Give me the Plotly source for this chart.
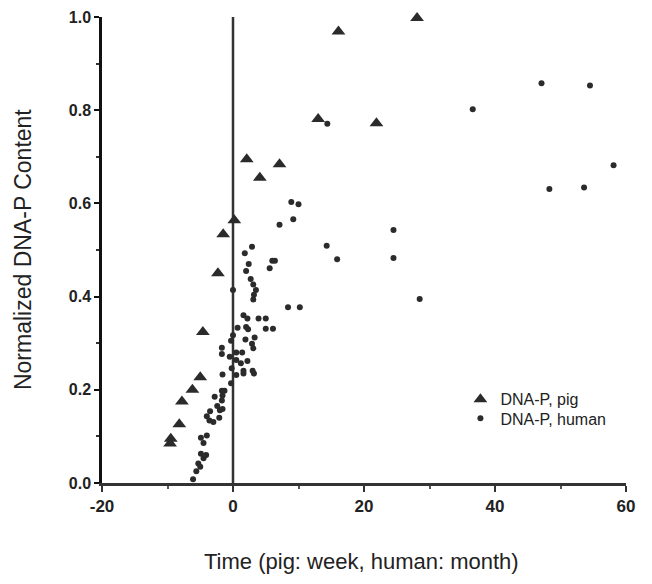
import plotly.graph_objects as go

# Pig data (x: weeks)
pig_x = [-9.6, -9.5, -8.2, -7.8, -6.2, -5.0, -4.6, -2.3, -1.5, 0.2, 2.1, 4.1, 7.1, 13.0, 16.1, 21.9, 28.1]
pig_y = [0.085, 0.095, 0.126, 0.175, 0.200, 0.227, 0.324, 0.450, 0.534, 0.564, 0.695, 0.655, 0.684, 0.781, 0.969, 0.772, 0.998]

# Human data (x: months)
human_x = [14.4, 47.1, 54.5, 36.6, 58.1, 48.3, 53.6, 8.9, 10.0, 9.2, 7.1, 24.5, 14.3, 15.9, 24.5, 28.5,
           8.4, 10.2, 3.9, 5.0, 6.0, 6.4, 5.6, 2.9, 1.8, 2.4, 2.0, 2.7, 3.1, 3.5, 3.2, 3.1, 0.0,
           1.6, 2.2, 0.7, 2.0, 2.3, 5.0, 6.1, 0.0, -0.3, 1.9, 3.3, 2.9, 3.1, -1.7, -1.7, -0.5, 0.5,
           1.4, 0.5, 1.2, 2.2, -0.2, 1.6, 1.6, 3.0, 3.2, 0.5, -1.6, -0.3, -1.7, -1.3, -1.6, -1.7,
           -2.8, -2.4, -2.0, -1.6, -3.5, -4.0, -3.6, -3.0, -2.1, -4.0, -4.9, -4.5, -4.9, -4.1, -4.5,
           -5.3, -5.0, -5.6, -6.1]
human_y = [0.771, 0.858, 0.853, 0.802, 0.682, 0.631, 0.634, 0.603, 0.598, 0.566, 0.554, 0.543, 0.509, 0.480, 0.483, 0.395,
           0.377, 0.377, 0.353, 0.353, 0.477, 0.477, 0.461, 0.507, 0.493, 0.470, 0.455, 0.438, 0.426, 0.414, 0.404, 0.394, 0.414,
           0.360, 0.353, 0.333, 0.335, 0.330, 0.331, 0.331, 0.317, 0.305, 0.308, 0.312, 0.299, 0.289, 0.290, 0.277, 0.271, 0.280,
           0.280, 0.264, 0.257, 0.262, 0.246, 0.241, 0.235, 0.241, 0.235, 0.232, 0.233, 0.214, 0.198, 0.198, 0.188, 0.177,
           0.185, 0.165, 0.156, 0.159, 0.154, 0.143, 0.134, 0.131, 0.140, 0.102, 0.097, 0.086, 0.063, 0.060, 0.053,
           0.042, 0.035, 0.025, 0.008]

x_ticks = [-20, 0, 20, 40, 60]
y_ticks = [0.0, 0.2, 0.4, 0.6, 0.8, 1.0]

x_title = "Time (pig: week, human: month)"
y_title = "Normalized DNA-P Content"

ink = "#2b2b2b"
font_family = "Liberation Sans, Arial, sans-serif"

fig = go.Figure()
fig.add_trace(go.Scatter(x=pig_x, y=pig_y, mode="markers", name="DNA-P, pig",
                         marker=dict(symbol="triangle-up", size=12, color=ink),
                         cliponaxis=False, legend="legend"))
fig.add_trace(go.Scatter(x=human_x, y=human_y, mode="markers", name="DNA-P, human",
                         marker=dict(symbol="circle", size=6, color=ink),
                         cliponaxis=False, legend="legend2"))

fig.add_shape(type="line", x0=0, x1=0, y0=0, y1=1, xref="x", yref="y",
              line=dict(color="#333333", width=2.5), layer="below")

legend_common = dict(xanchor="left", yanchor="top", bgcolor="rgba(0,0,0,0)",
                     font=dict(size=16, color="#222222"), itemsizing="trace")

fig.add_annotation(text=x_title, xref="paper", yref="paper", x=0.496, y=-0.1695,
                   xanchor="center", yanchor="middle", showarrow=False,
                   font=dict(size=22, color="#222222"))
fig.add_annotation(text=y_title, xref="paper", yref="paper", x=-0.1508, y=0.502,
                   xanchor="center", yanchor="middle", showarrow=False, textangle=-90,
                   font=dict(size=23, color="#222222"))

fig.update_layout(
    width=636, height=568,
    margin=dict(l=94, r=18, t=9, b=93),
    paper_bgcolor="white", plot_bgcolor="white",
    font=dict(family=font_family, color="#222222"),
    showlegend=True,
    legend=dict(x=0.684, y=0.216, **legend_common),
    legend2=dict(x=0.684, y=0.175, **legend_common),
    xaxis=dict(range=[-20, 60], tickvals=x_ticks, ticktext=[str(v) for v in x_ticks],
               automargin=False,
               showgrid=False, zeroline=False, showline=True, linecolor="#333333", linewidth=2.5,
               ticks="outside", ticklen=6, tickwidth=2, tickcolor="#333333",
               minor=dict(tickvals=[-10, 10, 30, 50], ticks="outside", ticklen=3, tickwidth=1.5, tickcolor="#555555"),
               tickfont=dict(size=17, weight="bold", color="#222222"), ticklabeloverflow="allow"),
    yaxis=dict(range=[0, 1], tickvals=y_ticks, ticktext=["%.1f" % v for v in y_ticks],
               automargin=False,
               showgrid=False, zeroline=False, showline=True, linecolor="#111111", linewidth=2.5,
               ticks="outside", ticklen=5, tickwidth=2, tickcolor="#111111",
               minor=dict(tickvals=[0.1, 0.3, 0.5, 0.7, 0.9], ticks="outside", ticklen=3, tickwidth=1.5, tickcolor="#333333"),
               tickfont=dict(size=16, weight="bold", color="#222222"), ticklabeloverflow="allow"),
)

fig.write_html("out.html")
